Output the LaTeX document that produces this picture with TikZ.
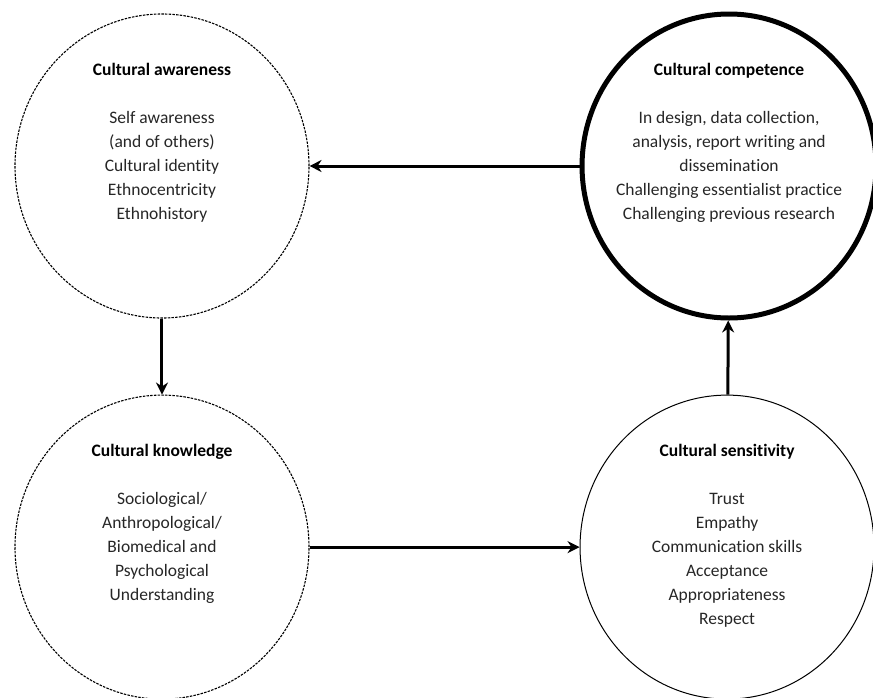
\documentclass[tikz,border=0pt]{standalone}
\usepackage{fontspec}
\setmainfont{Carlito}[Ligatures=CommonOff]
\usetikzlibrary{shapes.geometric, arrows.meta, positioning}

\begin{document}
\begin{tikzpicture}[
        node distance=76pt and 270pt,
        stage/.style={ellipse, draw=black, minimum width=294pt,
            minimum height=304pt, inner sep=0pt},
        txt/.style={align=center, inner sep=0pt, anchor=north, text=black!85,
            font=\fontsize{17.5}{24}\selectfont},
        arrow/.style={-{Stealth[length=12pt, width=12pt]}, line width=3pt}
        ]
        \useasboundingbox (-162pt,166pt) rectangle (711pt,-531pt);

        \node[stage, dash pattern=on 2.5pt off 1.2pt, line width=1.1pt] (aware) {};
        \node[stage, right=of aware, line width=5pt] (comp) {};
        \node[stage, below=of aware, dash pattern=on 2.5pt off 1.2pt, line width=1.1pt] (know) {};
        \node[stage, right=of know, line width=1pt] (sens) {};

        \node[txt] (awaretxt) at ([yshift=103pt]aware.center)
            {{\color{black}\bfseries Cultural awareness}\\[24pt]
            Self awareness\\(and of others)\\Cultural identity\\Ethnocentricity\\Ethnohistory};
        \node[txt] (comptxt) at ([yshift=103pt]comp.center)
            {{\color{black}\bfseries Cultural competence}\\[24pt]
            In design, data collection,\\analysis, report writing and\\dissemination\\
            Challenging essentialist practice\\Challenging previous research};
        \node[txt] (knowtxt) at ([yshift=103pt]know.center)
            {{\color{black}\bfseries Cultural knowledge}\\[24pt]
            Sociological/\\Anthropological/\\Biomedical and\\Psychological\\Understanding};
        \node[txt] (senstxt) at ([yshift=103pt]sens.center)
            {{\color{black}\bfseries Cultural sensitivity}\\[24pt]
            Trust\\Empathy\\Communication skills\\Acceptance\\Appropriateness\\Respect};

        \draw[arrow] (comp) -- (aware);
        \draw[arrow] (aware) -- (know);
        \draw[arrow] (know) -- (sens);
        \draw[arrow] (sens) -- (comp);
    \end{tikzpicture}
\end{document}
